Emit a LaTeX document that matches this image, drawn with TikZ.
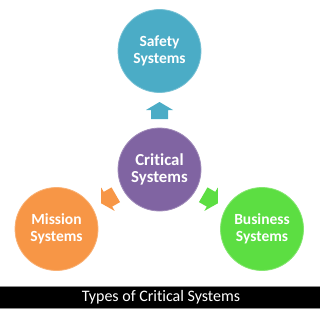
\documentclass[tikz,border=0pt]{standalone}
\usepackage{fontspec}
\setmainfont[Ligatures={NoCommon}]{Carlito}
\usetikzlibrary{calc}
\definecolor{safetycolor}{RGB}{75,172,198}
\definecolor{criticalcolor}{RGB}{128,100,162}
\definecolor{missioncolor}{RGB}{247,150,70}
\definecolor{businesscolor}{RGB}{92,222,66}
\tikzset{
  system/.style={
    circle,
    minimum size=83pt,
    inner sep=0pt,
    align=center,
    text=white,
    font=\fontsize{15.5}{16.5}\selectfont\bfseries,
    line width=0.8pt
  },
  caption bar/.style={
    fill=black,
    draw=black!45,
    line width=0.6pt
  }
}

\begin{document}
\begin{tikzpicture}[x=1pt, y=1pt]

  \useasboundingbox (0,0) rectangle (320,311);

  % The central system and the three kinds around it.
  \node[system, fill=criticalcolor, draw=criticalcolor!75!white,
        font=\fontsize{16.8}{17.5}\selectfont\bfseries]
    (crit) at (159.5,141.5) {Critical\\Systems};
  \node[system, fill=safetycolor, draw=safetycolor!75!white]
    (safety) at (159.5,260) {Safety\\Systems};
  \node[system, fill=missioncolor, draw=missioncolor!75!white]
    (mission) at (56.5,82) {Mission\\Systems};
  \node[system, fill=businesscolor, draw=businesscolor!75!white]
    (business) at (262,82) {Business\\Systems};

  % Block arrows pointing out of the central circle.
  \foreach \ang/\col in {90/safetycolor, 210/missioncolor, 330/businesscolor}{
    \begin{scope}[shift={(crit.center)}, rotate=\ang]
      \fill[\col] (50.5,-8.5) -- (59.5,-8.5) -- (59.5,-13.5) -- (67.5,0)
        -- (59.5,13.5) -- (59.5,8.5) -- (50.5,8.5) -- cycle;
    \end{scope}
  }

  % Caption.
  \draw[caption bar] (-1,3) rectangle (321,25);
  \node[text=white, font=\fontsize{16}{18}\selectfont]
    (caption) at (161,14) {Types of Critical Systems};

\end{tikzpicture}
\end{document}
